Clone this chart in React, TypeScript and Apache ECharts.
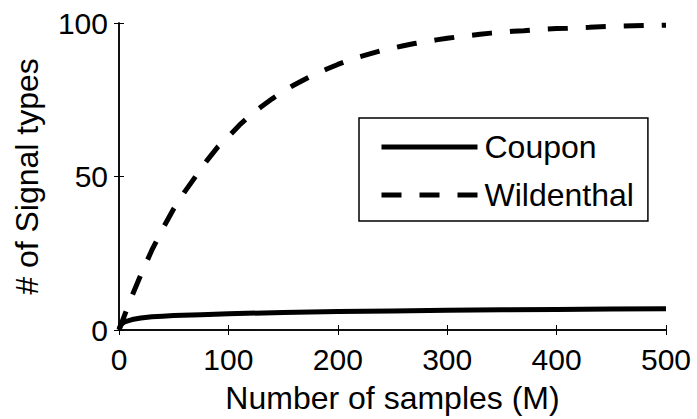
import React, { useEffect, useRef } from "react";
import * as echarts from "echarts";

const xTicks = [0, 100, 200, 300, 400, 500];
const yTicks = [0, 50, 100];

const couponSamples = [0, 1, 2, 3, 5, 8, 12, 20, 30, 40, 50, 75, 100, 150, 200, 250, 300, 350, 400, 450, 500];
const couponValues = [0.3, 1.2, 1.8, 2.1, 2.6, 3.0, 3.4, 3.9, 4.3, 4.5, 4.7, 5.0, 5.3, 5.7, 6.0, 6.2, 6.4, 6.6, 6.7, 6.8, 6.9];

const wildSamples = [0, 10, 20, 30, 40, 50, 60, 70, 80, 90, 100, 110, 120, 130, 140, 150, 160, 170, 180, 190, 200, 210, 220, 230, 240, 250, 260, 270, 280, 290, 300, 310, 320, 330, 340, 350, 360, 370, 380, 390, 400, 410, 420, 430, 440, 450, 460, 470, 480, 490, 500];
const wildValues = [0, 9.5, 18, 26, 33, 39.5, 45, 50, 55, 59.5, 63, 66.7, 69.9, 72.7, 75.3, 77.7, 79.8, 81.7, 83.5, 85, 86.5, 87.8, 89, 90, 91, 91.8, 92.6, 93.3, 93.9, 94.5, 95, 95.5, 95.9, 96.3, 96.7, 97, 97.3, 97.5, 97.8, 98, 98.2, 98.3, 98.5, 98.6, 98.8, 98.9, 99, 99.1, 99.2, 99.2, 99.3];

const FONT = "Liberation Sans, Arial, sans-serif";
const DASH = [20, 18];

export default function App() {
  const ref = useRef<HTMLDivElement>(null);
  useEffect(() => {
    if (!ref.current) return;
    const chart = echarts.init(ref.current, undefined, { renderer: "svg" });
    const axisLine = { show: true, lineStyle: { color: "#000", width: 1.5 } };
    const axisTick = { show: true, inside: true, length: 5, lineStyle: { color: "#000", width: 1 } };
    chart.setOption({
      animation: false,
      backgroundColor: "#fff",
      grid: { left: 119, top: 23, width: 547, height: 309, containLabel: false },
      legend: {
        left: 359,
        top: 118,
        orient: "vertical",
        data: [
          { name: "Coupon", lineStyle: { width: 5, type: "solid", color: "#000" } },
          { name: "Wildenthal", lineStyle: { width: 5, type: DASH, color: "#000" } },
        ],
        itemWidth: 96,
        itemHeight: 14,
        itemGap: 16,
        padding: [13, 14, 10, 20],
        borderColor: "#000",
        borderWidth: 1.5,
        backgroundColor: "#fff",
        itemStyle: { opacity: 0, borderWidth: 0 },
        textStyle: { fontFamily: FONT, fontSize: 32, color: "#000", lineHeight: 32, padding: [0, 0, 0, 2] },
      },
      xAxis: [
        {
          type: "value",
          min: 0,
          max: 500,
          interval: 100,
          position: "bottom",
          axisLine,
          axisTick,
          splitLine: { show: false },
          axisLabel: { fontFamily: FONT, fontSize: 30, color: "#000", margin: 14 },
          name: "Number of samples (M)",
          nameLocation: "middle",
          nameGap: 52,
          nameTextStyle: { fontFamily: FONT, fontSize: 32, color: "#000" },
        },
        {
          type: "value",
          min: 0,
          max: 500,
          interval: 100,
          position: "top",
          axisLine,
          axisTick,
          splitLine: { show: false },
          axisLabel: { show: false },
        },
      ],
      yAxis: [
        {
          type: "value",
          min: 0,
          max: 100,
          interval: 50,
          position: "left",
          axisLine,
          axisTick,
          splitLine: { show: false },
          axisLabel: { fontFamily: FONT, fontSize: 30, color: "#000", margin: 11 },
          name: "# of Signal types",
          nameLocation: "middle",
          nameGap: 76,
          nameTextStyle: { fontFamily: FONT, fontSize: 32, color: "#000" },
        },
        {
          type: "value",
          min: 0,
          max: 100,
          interval: 50,
          position: "right",
          axisLine,
          axisTick,
          splitLine: { show: false },
          axisLabel: { show: false },
        },
      ],
      series: [
        {
          name: "Coupon",
          type: "line",
          symbol: "none",
          showSymbol: false,
          smooth: false,
          data: couponSamples.map((s, i) => [s, couponValues[i]]),
          lineStyle: { color: "#000", width: 5, type: "solid" },
          itemStyle: { color: "#000" },
        },
        {
          name: "Wildenthal",
          type: "line",
          symbol: "none",
          showSymbol: false,
          smooth: false,
          data: wildSamples.map((s, i) => [s, wildValues[i]]),
          lineStyle: { color: "#000", width: 5, type: DASH },
          itemStyle: { color: "#000" },
        },
      ],
    });
    return () => chart.dispose();
  }, []);
  return (
    <div style={{ position: "absolute", left: 0, top: 0, width: 697, height: 419, background: "#fff" }}>
      <div ref={ref} style={{ width: 697, height: 419 }} />
    </div>
  );
}
